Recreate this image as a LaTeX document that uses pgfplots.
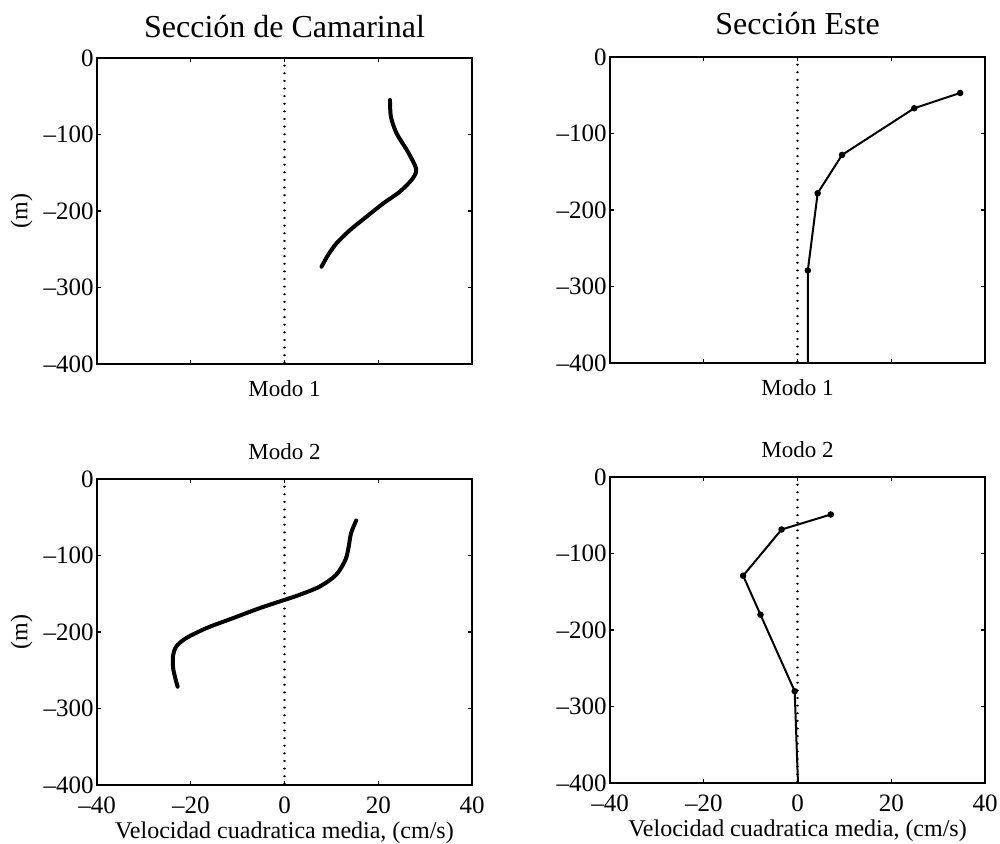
\documentclass[border=0pt]{standalone}
\usepackage{fontspec}
\setmainfont{Liberation Serif}
\usepackage{pgfplots}
\pgfplotsset{compat=1.18}

\pgfplotsset{
  every axis title shift=0pt,
  perfil/.style={
    scale only axis,
    width=187.5pt, height=153pt,
    xmin=-40, xmax=40, ymin=-400, ymax=0,
    xtick={-40,-20,0,20,40},
    ytick={0,-100,-200,-300,-400},
    yticklabels={0,–100,–200,–300,–400},
    tick align=inside, tick pos=both,
    major tick length=2.2pt,
    axis line style={line width=0.8pt},
    every tick/.style={black, line width=0.6pt},
    tick label style={font=\fontsize{12.5}{14}\selectfont},
    yticklabel style={anchor=east, inner sep=0pt, xshift=-1.5pt},
    xticklabel style={anchor=base, inner sep=0pt, yshift=-14pt},
    label style={font=\fontsize{12}{14}\selectfont},
    ylabel style={at={(axis description cs:-0.201,0.5)}, anchor=center},
    title style={at={(axis description cs:0.5,1)}, anchor=base, inner sep=0pt},
    clip=true,
  },
  arriba/.style={
    xticklabels={,,,,},
    xlabel={Modo 1},
    xlabel style={at={(axis description cs:0.5,0)}, anchor=base, inner sep=0pt, yshift=-16pt, font=\fontsize{11.5}{13}\selectfont},
  },
  abajo/.style={
    xticklabels={–40,–20,0,20,40},
    xlabel={Velocidad cuadratica media, (cm/s)},
    xlabel style={at={(axis description cs:0.5,0)}, anchor=base, inner sep=0pt, yshift=-26.5pt},
    title={Modo 2},
    title style={font=\fontsize{11.5}{13}\selectfont},
  },
  cero/.style={black, line width=1.1pt, dash pattern=on 0.01pt off 3.8pt, line cap=round},
  suave/.style={black, line width=2pt, smooth, tension=0.5, line cap=round},
  puntos/.style={black, line width=1pt, mark=*, mark size=1.1pt, mark indices={1,2,3,4,5}},
}

\begin{document}
\begin{tikzpicture}
\useasboundingbox (0,0) rectangle (500pt,-421.5pt);

% Camarinal, modo 1
\begin{axis}[perfil, arriba, at={(48.5pt,-29pt)}, anchor=north west,
  ylabel={(m)},
  title={Sección de Camarinal},
  title style={yshift=10.5pt, font=\fontsize{16}{19}\selectfont}]
\addplot[cero] coordinates {(0,0) (0,-400)};
\addplot[suave] coordinates {
  (22.5,-54.9) (22.7,-76.7) (23.9,-98.4) (26.1,-120.3) (27.8,-139.9)
  (28.1,-148.6) (27.1,-159.5) (24.6,-174.8) (21.1,-189.9) (17.5,-207.4)
  (14.0,-224.8) (11.1,-242.2) (9.3,-257.5) (7.9,-272.8)};
\end{axis}

% Este, modo 1
\begin{axis}[perfil, arriba, at={(305pt,-28.5pt)}, anchor=north west,
  title={Sección Este},
  title style={yshift=11.3pt, font=\fontsize{16}{19}\selectfont}]
\addplot[cero] coordinates {(0,0) (0,-400)};
\addplot[puntos] coordinates {
  (34.7,-47) (24.9,-67) (9.5,-128) (4.3,-178) (2.2,-279) (2.2,-400)};
\end{axis}

% Camarinal, modo 2
\begin{axis}[perfil, abajo, at={(48.5pt,-239.5pt)}, anchor=north west,
  ylabel={(m)}, title style={yshift=9.8pt}]
\addplot[cero] coordinates {(0,0) (0,-400)};
\addplot[suave] coordinates {
  (15.3,-54.2) (14.2,-70.7) (13.7,-88.2) (13.0,-105.6) (11.0,-125.3)
  (7.5,-140.6) (3.2,-151.4) (0,-158) (-5.3,-168.8) (-11.0,-181.9)
  (-16.7,-195.0) (-21.0,-208.1) (-23.1,-219.1) (-23.8,-232.2)
  (-23.7,-249.6) (-22.8,-271.5)};
\end{axis}

% Este, modo 2
\begin{axis}[perfil, abajo, at={(305pt,-238.5pt)}, anchor=north west,
  title style={yshift=10pt}]
\addplot[cero] coordinates {(0,0) (0,-400)};
\addplot[puntos] coordinates {
  (7.1,-49) (-3.4,-68.6) (-11.6,-129) (-7.9,-180) (-0.6,-280) (0.1,-400)};
\end{axis}
\end{tikzpicture}
\end{document}
